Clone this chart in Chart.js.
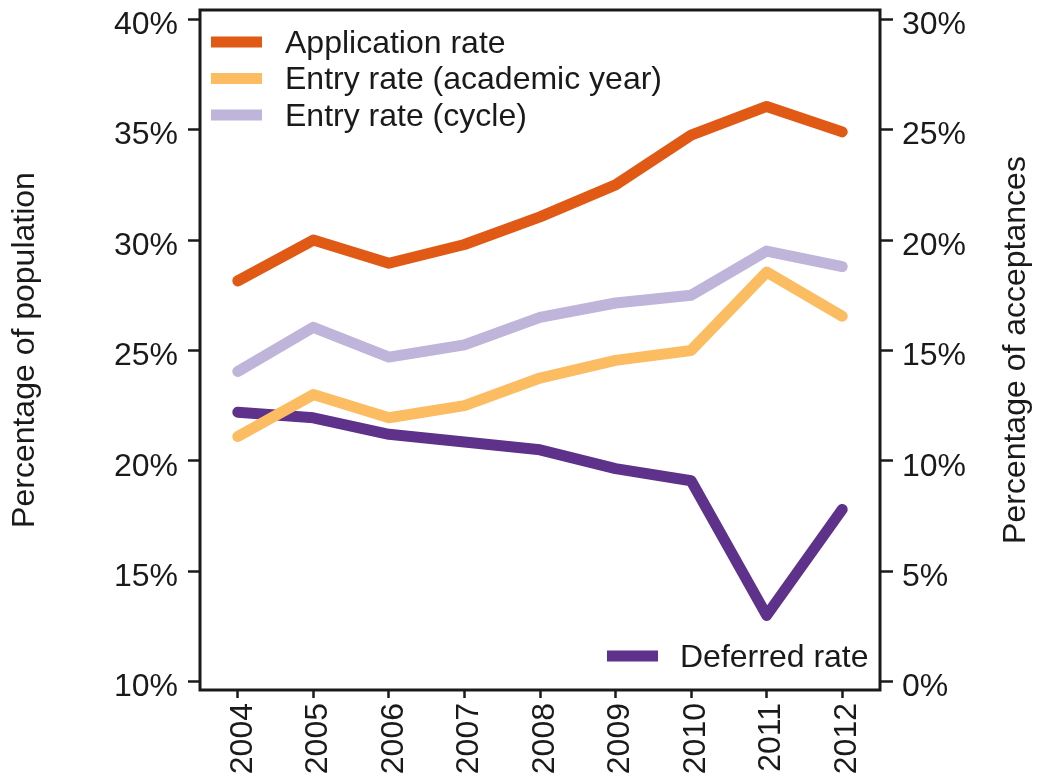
<!DOCTYPE html>
<html>
<head>
<meta charset="utf-8">
<script src="https://cdn.jsdelivr.net/npm/chart.js@4"></script>
<style>
  html, body { margin: 0; padding: 0; background: #fff; }
  #wrap { width: 1037px; height: 779px; }
</style>
</head>
<body>
<div id="wrap"><canvas id="chart" width="1037" height="779"></canvas></div>
<script>
// Data
const years = ["2004", "2005", "2006", "2007", "2008", "2009", "2010", "2011", "2012"];
const applicationRate = [28.15, 30.0, 28.95, 29.8, 31.05, 32.5, 34.75, 36.05, 34.9];
const entryAcademic = [21.1, 23.0, 21.95, 22.5, 23.75, 24.55, 25.0, 28.55, 26.55];
const entryCycle = [24.05, 26.05, 24.7, 25.25, 26.5, 27.15, 27.5, 29.5, 28.8];
const deferredRate = [12.2, 11.95, 11.2, 10.85, 10.5, 9.65, 9.1, 3.0, 7.8];
const leftTicks = [10, 15, 20, 25, 30, 35, 40];
const rightTicks = [0, 5, 10, 15, 20, 25, 30];

const ink = "#1a1a1a";
const fontFamily = "'Liberation Sans', Arial, Helvetica, sans-serif";
const fontSize = 32;
const lineW = 11;

function lineSet(label, data, color, axis) {
    return {
        label: label,
        data: data,
        yAxisID: axis,
        borderColor: color,
        backgroundColor: color,
        borderWidth: lineW,
        borderCapStyle: "round",
        borderJoinStyle: "round",
        pointRadius: 0,
        tension: 0,
        fill: false,
    };
}

// no extra room for the half labels at the ends of the y axes
function fixVertical(width) {
    return function (scale) {
        scale.width = width;
        scale.paddingTop = 0;
        scale.paddingBottom = 0;
    };
}

// Frame round the plot, the legend and the right axis title
const decorations = {
    id: "decorations",
    afterDraw(chart) {
        const ctx = chart.ctx;
        const a = chart.chartArea;
        ctx.save();
        ctx.strokeStyle = ink;
        ctx.lineWidth = 3;
        ctx.strokeRect(a.left, a.top, a.right - a.left, a.bottom - a.top);

        ctx.font = fontSize + "px " + fontFamily;
        ctx.textBaseline = "middle";
        ctx.textAlign = "left";
        ctx.lineCap = "butt";
        ctx.lineWidth = lineW;

        const sets = chart.data.datasets;
        [0, 1, 2].forEach(function (i, k) {
            const y = a.top + 32 + k * 36.5;
            ctx.strokeStyle = sets[i].borderColor;
            ctx.beginPath();
            ctx.moveTo(a.left + 11, y);
            ctx.lineTo(a.left + 62, y);
            ctx.stroke();
            ctx.fillStyle = ink;
            ctx.fillText(sets[i].label, a.left + 85, y + 2);
        });

        // Deferred rate entry, bottom right
        const dy = a.bottom - 34;
        ctx.strokeStyle = sets[3].borderColor;
        ctx.beginPath();
        ctx.moveTo(a.right - 273, dy);
        ctx.lineTo(a.right - 222, dy);
        ctx.stroke();
        ctx.fillStyle = ink;
        ctx.fillText(sets[3].label, a.right - 200, dy + 2);

        // Right axis title, reading upwards
        ctx.translate(1016, (a.top + a.bottom) / 2);
        ctx.rotate(-Math.PI / 2);
        ctx.textAlign = "center";
        ctx.fillText("Percentage of acceptances", 0, 0);
        ctx.restore();
    },
};

const ctx = document.getElementById("chart").getContext("2d");
new Chart(ctx, {
    type: "line",
    data: {
        labels: years,
        datasets: [
            lineSet("Application rate", applicationRate, "#e05a16", "y"),
            lineSet("Entry rate (academic year)", entryAcademic, "#fbbc62", "y"),
            lineSet("Entry rate (cycle)", entryCycle, "#bfb4d9", "y"),
            lineSet("Deferred rate", deferredRate, "#5e318a", "y2"),
        ],
    },
    options: {
        responsive: false,
        animation: false,
        layout: { padding: { top: 10, left: 0, right: 0, bottom: 0 } },
        plugins: {
            legend: { display: false },
            tooltip: { enabled: false },
        },
        scales: {
            x: {
                type: "category",
                offset: true,
                border: { display: false },
                grid: {
                    offset: false,
                    drawOnChartArea: false,
                    drawTicks: true,
                    tickLength: 8,
                    tickWidth: 2.5,
                    tickColor: ink,
                },
                ticks: {
                    color: ink,
                    font: { family: fontFamily, size: fontSize },
                    minRotation: 90,
                    maxRotation: 90,
                    padding: 5,
                    labelOffset: 5,
                    autoSkip: false,
                },
                afterFit(scale) { scale.height = 89; },
            },
            y: {
                position: "left",
                min: 9.62,
                max: 40.42,
                border: { display: false },
                grid: {
                    drawOnChartArea: false,
                    drawTicks: true,
                    tickLength: 12,
                    tickWidth: 2.5,
                    tickColor: ink,
                },
                ticks: {
                    color: ink,
                    font: { family: fontFamily, size: fontSize },
                    padding: 10,
                    labelOffset: 6,
                    callback: (v) => v + "%",
                },
                afterBuildTicks(scale) {
                    scale.ticks = leftTicks.map((v) => ({ value: v }));
                },
                title: {
                    display: true,
                    text: "Percentage of population",
                    color: ink,
                    font: { family: fontFamily, size: fontSize },
                    padding: { top: 6, bottom: 0 },
                },
                afterFit: fixVertical(200),
            },
            y2: {
                position: "right",
                min: -0.38,
                max: 30.42,
                border: { display: false },
                grid: {
                    drawOnChartArea: false,
                    drawTicks: true,
                    tickLength: 13,
                    tickWidth: 2.5,
                    tickColor: ink,
                },
                ticks: {
                    color: ink,
                    font: { family: fontFamily, size: fontSize },
                    padding: 9,
                    labelOffset: 6,
                    callback: (v) => v + "%",
                },
                afterBuildTicks(scale) {
                    scale.ticks = rightTicks.map((v) => ({ value: v }));
                },
                afterFit: fixVertical(157),
            },
        },
    },
    plugins: [decorations],
});
</script>
</body>
</html>
